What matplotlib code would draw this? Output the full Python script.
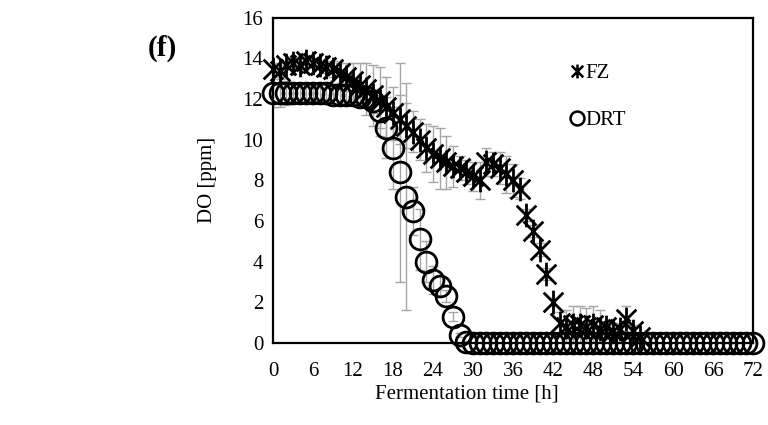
import numpy as np
import matplotlib
matplotlib.use('Agg')
import matplotlib.pyplot as plt
from matplotlib.path import Path
from matplotlib.lines import Line2D

plt.rcParams['font.family'] = ['Liberation Serif', 'DejaVu Serif']

# FZ series, hourly from 0 h
fz_time = np.arange(0, 56)
fz_do = [13.5, 13.4, 13.7, 13.8, 13.7, 13.9, 13.8, 13.7, 13.6, 13.5,
         13.3, 13.1, 12.9, 12.7, 12.5, 12.2, 11.9, 11.6, 11.3, 11.0,
         10.7, 10.4, 10.0, 9.6, 9.3, 9.1, 8.9, 8.7, 8.6, 8.4,
         8.2, 8.0, 8.9, 8.8, 8.6, 8.3, 8.0, 7.6, 6.3, 5.5,
         4.6, 3.4, 2.0, 1.0, 0.8, 0.9, 0.9, 0.8, 0.9, 0.7,
         0.8, 0.6, 0.7, 1.2, 0.6, 0.3]
fz_err = [0.3, 0.3, 0.2, 0.2, 0.2, 0.2, 0.2, 0.2, 0.3, 0.4,
          0.5, 0.7, 0.9, 1.1, 1.3, 1.5, 1.7, 1.5, 1.3, 1.2,
          1.1, 1.0, 1.0, 1.2, 1.4, 1.5, 1.3, 1.0, 0.6, 0.6,
          0.7, 0.9, 0.7, 0.6, 0.8, 0.9, 0.8, 0.5, 0.3, 0.3,
          0.3, 0.3, 0.2, 0.5, 0.8, 0.9, 0.9, 0.9, 0.9, 0.9,
          0.3, 0.3, 0.3, 0.6, 0.3, 0.2]

# DRT series, hourly from 0 h to 72 h
drt_time = np.arange(0, 73)
drt_do = [12.3, 12.3, 12.3, 12.3, 12.3, 12.3, 12.3, 12.3, 12.3, 12.2,
          12.2, 12.2, 12.2, 12.1, 12.1, 11.9, 11.4, 10.6, 9.6, 8.4,
          7.2, 6.5, 5.1, 4.0, 3.1, 2.8, 2.3, 1.3, 0.4, 0.05] + [0.0] * 43
drt_err = [0.7, 0.7, 0.6, 0.5, 0.4, 0.4, 0.4, 0.4, 0.4, 0.4,
           0.4, 0.4, 0.4, 0.4, 0.5, 0.6, 0.8, 1.5, 2.0, 5.4,
           5.6, 1.2, 1.5, 1.0, 0.7, 0.5, 0.3, 0.2, 0.1, 0.05] + [0.0] * 43

x_ticks = np.arange(0, 73, 6)
y_ticks = np.arange(0, 17, 2)

# star marker: an x with a vertical bar through it
star = Path([(-1, -1), (1, 1), (-1, 1), (1, -1), (0, -1.2), (0, 1.2)],
            [Path.MOVETO, Path.LINETO, Path.MOVETO, Path.LINETO, Path.MOVETO, Path.LINETO])

fig = plt.figure(figsize=(7.68, 4.25), dpi=100)
ax = fig.add_axes([0.3555, 0.193, 0.625, 0.765])

ax.errorbar(fz_time, fz_do, yerr=fz_err, fmt='none', ecolor='#a6a6a6',
            elinewidth=1, capsize=3.5, capthick=1, zorder=2)
ax.errorbar(drt_time, drt_do, yerr=drt_err, fmt='none', ecolor='#a6a6a6',
            elinewidth=1, capsize=3.5, capthick=1, zorder=2)
ax.plot(fz_time, fz_do, linestyle='none', marker=star, markersize=17,
        markeredgecolor='black', markeredgewidth=2.0, clip_on=False, zorder=3)
ax.plot(drt_time, drt_do, linestyle='none', marker='o', markersize=15,
        markerfacecolor='none', markeredgecolor='black', markeredgewidth=2.0,
        clip_on=False, zorder=4)

ax.set_xlim(0, 72)
ax.set_ylim(0, 16)
ax.set_xticks(x_ticks)
ax.set_yticks(y_ticks)
ax.tick_params(length=0, labelsize=15)
ax.tick_params(axis='x', pad=14)
ax.tick_params(axis='y', pad=7)
for side in ['left', 'bottom', 'top', 'right']:
    ax.spines[side].set_linewidth(1.6)
ax.set_xlabel('Fermentation time [h]', fontsize=15)
ax.xaxis.set_label_coords(0.404, -0.128)
ax.set_ylabel('DO [ppm]', fontsize=15, labelpad=18)

handles = [Line2D([], [], linestyle='none', marker=star, markersize=10,
                  markeredgecolor='black', markeredgewidth=1.8),
           Line2D([], [], linestyle='none', marker='o', markersize=10,
                  markerfacecolor='none', markeredgecolor='black', markeredgewidth=1.8)]
ax.legend(handles, ['FZ', 'DRT'], loc='upper left', bbox_to_anchor=(0.603, 0.885),
          frameon=False, fontsize=15, handlelength=0.6, handletextpad=0.1,
          labelspacing=1.3, borderaxespad=0)

fig.text(0.192, 0.868, '(f)', fontsize=21, fontweight='bold')

fig.savefig('out.png', dpi=100)
